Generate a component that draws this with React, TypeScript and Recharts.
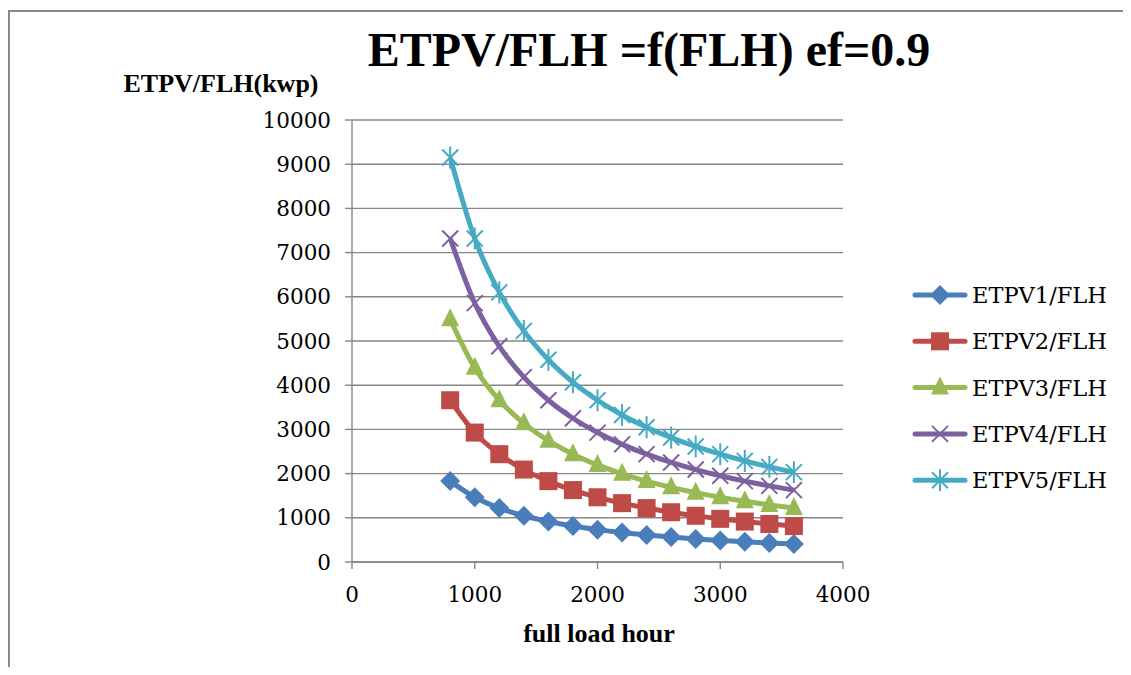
import { LineChart, Line, XAxis, YAxis, CartesianGrid } from "recharts";

const hours = [800, 1000, 1200, 1400, 1600, 1800, 2000, 2200, 2400, 2600, 2800, 3000, 3200, 3400, 3600];
const etpv1 = [1830, 1464, 1220, 1046, 915, 813, 732, 665, 610, 563, 523, 488, 458, 431, 407];
const etpv2 = [3660, 2928, 2440, 2091, 1830, 1627, 1464, 1331, 1220, 1126, 1046, 976, 915, 861, 813];
const etpv3 = [5490, 4392, 3660, 3137, 2745, 2440, 2196, 1996, 1830, 1689, 1569, 1464, 1373, 1292, 1220];
const etpv4 = [7320, 5856, 4880, 4183, 3660, 3253, 2928, 2662, 2440, 2252, 2091, 1952, 1830, 1722, 1627];
const etpv5 = [9150, 7320, 6100, 5229, 4575, 4067, 3660, 3327, 3050, 2815, 2614, 2440, 2288, 2153, 2033];

const xTicks = [0, 1000, 2000, 3000, 4000];
const yTicks = [0, 1000, 2000, 3000, 4000, 5000, 6000, 7000, 8000, 9000, 10000];

const seriesNames = ["ETPV1/FLH", "ETPV2/FLH", "ETPV3/FLH", "ETPV4/FLH", "ETPV5/FLH"];
const seriesValues = [etpv1, etpv2, etpv3, etpv4, etpv5];
const seriesColors = ["#4a7ebb", "#be4b48", "#98b954", "#7d60a0", "#46aac5"];
const seriesMarkers = ["diamond", "square", "triangle", "cross", "star"];

const data = hours.map((h, i) => {
  const row: Record<string, number> = { x: h };
  seriesValues.forEach((vals, s) => {
    row["s" + (s + 1)] = vals[i];
  });
  return row;
});

const GRAY = "#868686";

function Marker({ kind, cx, cy, color }: { kind: string; cx: number; cy: number; color: string }) {
  if (kind === "diamond") {
    return <polygon points={`${cx},${cy - 10} ${cx + 10},${cy} ${cx},${cy + 10} ${cx - 10},${cy}`} fill={color} />;
  }
  if (kind === "square") {
    return <rect x={cx - 9} y={cy - 9} width={18} height={18} fill={color} />;
  }
  if (kind === "triangle") {
    return <polygon points={`${cx},${cy - 11} ${cx + 9},${cy + 7} ${cx - 9},${cy + 7}`} fill={color} />;
  }
  if (kind === "cross") {
    return (
      <g stroke={color} strokeWidth={2}>
        <line x1={cx - 8} y1={cy - 8} x2={cx + 8} y2={cy + 8} />
        <line x1={cx - 8} y1={cy + 8} x2={cx + 8} y2={cy - 8} />
      </g>
    );
  }
  return (
    <g stroke={color} strokeWidth={2}>
      <line x1={cx - 8} y1={cy - 8} x2={cx + 8} y2={cy + 8} />
      <line x1={cx - 8} y1={cy + 8} x2={cx + 8} y2={cy - 8} />
      <line x1={cx} y1={cy - 11} x2={cx} y2={cy + 11} />
    </g>
  );
}

const W = 1123;
const H = 659;

export default function App() {
  return (
    <div style={{ position: "relative", width: W, height: H }}>
      <LineChart
        width={W}
        height={H}
        data={data}
        margin={{ top: 112, right: 288, bottom: 65, left: 264 }}
      >
        <CartesianGrid vertical={false} stroke={GRAY} strokeWidth={1.4} />
        <XAxis
          dataKey="x"
          type="number"
          domain={[0, 4000]}
          ticks={xTicks}
          height={40}
          stroke={GRAY}
          strokeWidth={1.4}
          tickSize={7}
          tickMargin={18}
          tick={{ fill: "#000", fontSize: 21.5, fontFamily: "DejaVu Serif" }}
        />
        <YAxis
          type="number"
          domain={[0, 10000]}
          ticks={yTicks}
          width={80}
          stroke={GRAY}
          strokeWidth={1.4}
          tickSize={7}
          tickMargin={14}
          interval={0}
          tick={{ fill: "#000", fontSize: 21.5, fontFamily: "DejaVu Serif" }}
        />
        {seriesNames.map((name, s) => (
          <Line
            key={name}
            name={name}
            dataKey={"s" + (s + 1)}
            type="monotone"
            stroke={seriesColors[s]}
            strokeWidth={5}
            isAnimationActive={false}
            dot={(p: any) => (
              <g key={`${name}-${p.index}`}>
                <Marker kind={seriesMarkers[s]} cx={p.cx} cy={p.cy} color={seriesColors[s]} />
              </g>
            )}
            activeDot={false}
          />
        ))}
      </LineChart>
      <svg
        width={W}
        height={H}
        style={{ position: "absolute", left: 0, top: 0, pointerEvents: "none", overflow: "visible" }}
      >
        <line x1={0} y1={3} x2={W} y2={3} stroke="#8a8a8a" strokeWidth={2} />
        <line x1={1} y1={3} x2={1} y2={H + 8} stroke="#8a8a8a" strokeWidth={2} />
        <text x={641} y={58} textAnchor="middle" fontFamily="Liberation Serif" fontWeight="bold" fontSize={48}>
          ETPV/FLH =f(FLH) ef=0.9
        </text>
        <text x={213} y={84} textAnchor="middle" fontFamily="Liberation Serif" fontWeight="bold" fontSize={26}>
          ETPV/FLH(kwp)
        </text>
        <text x={591} y={634} textAnchor="middle" fontFamily="Liberation Serif" fontWeight="bold" fontSize={26}>
          full load hour
        </text>
        {seriesNames.map((name, s) => {
          const cy = 287 + s * 46.3;
          return (
            <g key={name}>
              <line x1={907} y1={cy} x2={957} y2={cy} stroke={seriesColors[s]} strokeWidth={5} strokeLinecap="round" />
              <Marker kind={seriesMarkers[s]} cx={932} cy={cy} color={seriesColors[s]} />
              <text x={964} y={cy + 8} fontFamily="DejaVu Serif" fontSize={22.5} fill="#000">
                {name}
              </text>
            </g>
          );
        })}
      </svg>
    </div>
  );
}
